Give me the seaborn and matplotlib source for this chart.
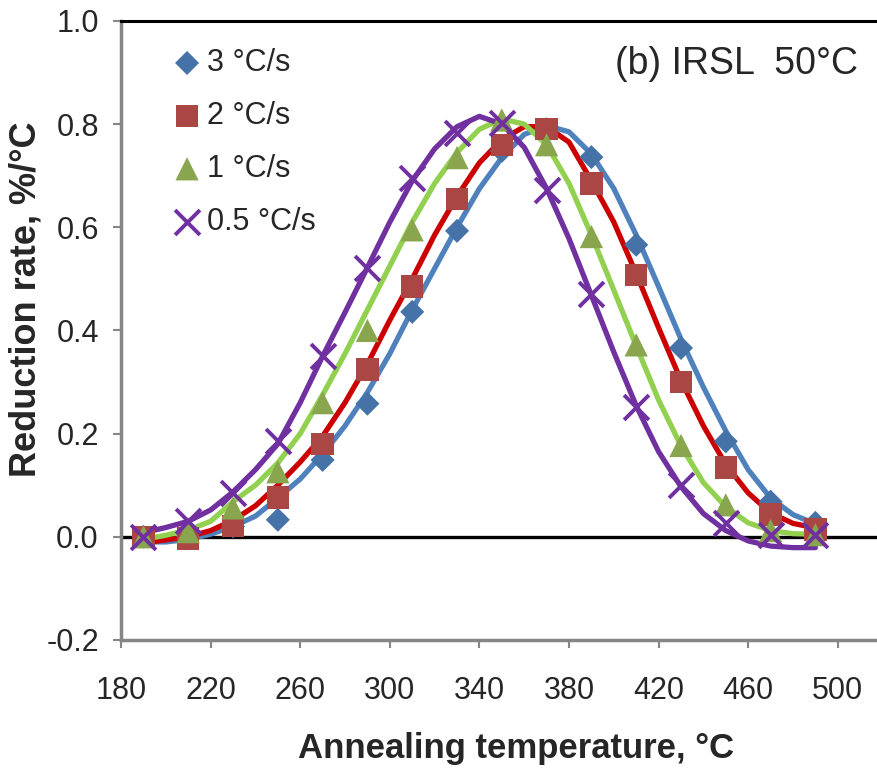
import numpy as np
import pandas as pd
import matplotlib
matplotlib.use("Agg")
import matplotlib.pyplot as plt
import seaborn as sns

sns.set_style("white")
plt.rcParams['font.family'] = ['Liberation Sans', 'DejaVu Sans']

# measured points (every 20 °C)
temps = [190, 210, 230, 250, 270, 290, 310, 330, 350, 370, 390, 410, 430, 450, 470, 490]
rate_3 = [0.0, 0.0, 0.02, 0.033, 0.149, 0.258, 0.436, 0.593, 0.748, 0.79, 0.736, 0.566, 0.366, 0.185, 0.068, 0.027]
rate_2 = [0.0, -0.003, 0.021, 0.076, 0.18, 0.324, 0.485, 0.655, 0.76, 0.79, 0.685, 0.508, 0.30, 0.134, 0.043, 0.014]
rate_1 = [0.0, 0.01, 0.056, 0.126, 0.26, 0.40, 0.595, 0.735, 0.808, 0.76, 0.582, 0.372, 0.177, 0.062, 0.012, 0.004]
rate_05 = [0.0, 0.03, 0.085, 0.186, 0.351, 0.522, 0.696, 0.783, 0.802, 0.673, 0.47, 0.252, 0.10, 0.027, 0.004, 0.004]

# fitted curves (read every 10 °C)
fit_t = list(range(190, 500, 10))
fit_3 = [-0.01, -0.01, -0.005, 0.005, 0.02, 0.04, 0.075, 0.112, 0.16, 0.215, 0.28, 0.355, 0.44, 0.52, 0.60,
         0.675, 0.735, 0.78, 0.797, 0.785, 0.742, 0.675, 0.585, 0.485, 0.383, 0.29, 0.205, 0.13, 0.075, 0.043, 0.025]
fit_2 = [-0.012, -0.006, 0.0, 0.012, 0.032, 0.06, 0.1, 0.145, 0.195, 0.26, 0.335, 0.42, 0.50, 0.585, 0.66,
         0.725, 0.77, 0.795, 0.795, 0.765, 0.69, 0.61, 0.51, 0.405, 0.303, 0.215, 0.14, 0.085, 0.046, 0.026, 0.017]
fit_1 = [-0.005, 0.003, 0.013, 0.03, 0.068, 0.1, 0.143, 0.2, 0.275, 0.355, 0.44, 0.525, 0.61, 0.685, 0.745,
         0.79, 0.81, 0.80, 0.76, 0.685, 0.585, 0.478, 0.37, 0.265, 0.176, 0.105, 0.058, 0.027, 0.012, 0.006, 0.005]
fit_05 = [0.008, 0.018, 0.03, 0.052, 0.087, 0.13, 0.18, 0.26, 0.35, 0.435, 0.522, 0.61, 0.69, 0.752, 0.795,
          0.815, 0.80, 0.755, 0.675, 0.578, 0.468, 0.358, 0.254, 0.165, 0.097, 0.045, 0.012, -0.008, -0.018, -0.021, -0.021]

labels = ['3 °C/s', '2 °C/s', '1 °C/s', '0.5 °C/s']
line_colors = ['#4F81BD', '#CC0000', '#92D050', '#7030A0']
marker_colors = ['#4572A7', '#AA4643', '#89A54E', '#7030A0']
markers = ['D', 's', '^', 'x']
sizes = [150, 260, 280, 320]

fits = pd.DataFrame({'T': fit_t * 4,
                     'rate': fit_3 + fit_2 + fit_1 + fit_05,
                     'series': [l for l in labels for _ in fit_t]})
pts = pd.DataFrame({'T': temps * 4,
                    'rate': rate_3 + rate_2 + rate_1 + rate_05,
                    'series': [l for l in labels for _ in temps]})

fig = plt.figure(figsize=(8.77, 7.69), dpi=100)
ax = fig.add_axes([0.138, 0.1678, 0.862, 0.805])

ax.axhline(0, color='black', lw=2.4, zorder=1.5)

sns.lineplot(data=fits, x='T', y='rate', hue='series', palette=line_colors,
             lw=3.8, legend=False, ax=ax, zorder=2)

for lab, mk, col, s in zip(labels, markers, marker_colors, sizes):
    sub = pts[pts['series'] == lab]
    if mk == 'x':
        sns.scatterplot(x=sub['T'], y=sub['rate'], marker=mk, s=s, color=col,
                        linewidth=2.8, label=lab, ax=ax, zorder=3)
    else:
        sns.scatterplot(x=sub['T'], y=sub['rate'], marker=mk, s=s, color=col,
                        edgecolor='none', label=lab, ax=ax, zorder=3)

ax.set_xlim(180, 517.5)
ax.set_ylim(-0.2, 1.0)
ax.set_xticks(range(180, 501, 40))
ax.set_yticks(np.arange(-0.2, 1.01, 0.2))
ax.set_yticklabels([f'{v:.1f}' for v in np.arange(-0.2, 1.01, 0.2)])

for side in ['left', 'bottom']:
    ax.spines[side].set_color('#868686')
    ax.spines[side].set_linewidth(2.5)
ax.spines['top'].set_color('black')
ax.spines['top'].set_linewidth(2.2)
ax.spines['right'].set_visible(False)

ax.tick_params(axis='both', which='major', direction='out', length=6, width=1.5,
               color='#868686', labelsize=22, bottom=True, left=True)
ax.tick_params(axis='x', pad=20)
ax.tick_params(axis='y', pad=10)

ax.set_xlabel('')
ax.set_ylabel('')
fig.text(0.588, 0.027, 'Annealing temperature, °C', fontsize=25, fontweight='bold',
         ha='center', va='center')
fig.text(0.030, 0.611, 'Reduction rate, %/°C', fontsize=26, fontweight='bold',
         ha='center', va='center', rotation=90)

ax.text(0.975, 0.93, '(b) IRSL  50°C', transform=ax.transAxes, ha='right', va='center', fontsize=27)

leg = ax.legend(loc='upper left', bbox_to_anchor=(0.055, 0.976), frameon=False, fontsize=22,
                handlelength=0.8, handletextpad=0.25, labelspacing=0.75, borderaxespad=0)

fig.savefig('out.png', dpi=100)
